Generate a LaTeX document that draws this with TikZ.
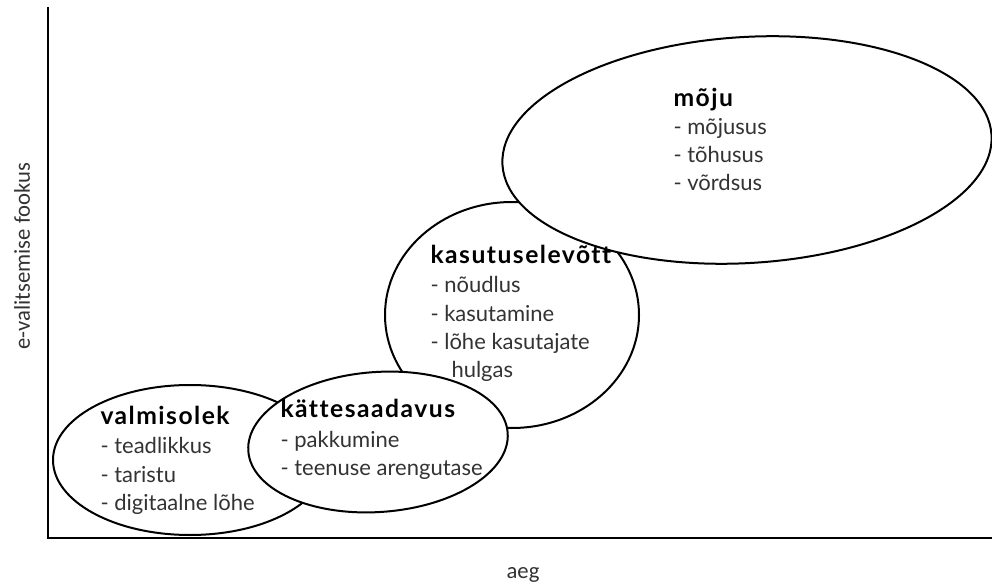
\documentclass[tikz,border=0pt]{standalone}
\usepackage{fontspec}
\setmainfont{Lato}
\newfontfamily\headfont{Lato}[LetterSpace=6, Ligatures=NoCommon]
\newfontfamily\axisfont{Carlito}
\usetikzlibrary{shapes.geometric}

\tikzset{every picture/.style={line width=0.75pt}}
\tikzset{
  bubble/.style={draw, ellipse, fill=white, line width=1.5pt, inner sep=0pt},
  headtxt/.style={anchor=base west, inner sep=0pt, font=\headfont\fontsize{18.5}{22}\selectfont\bfseries},
  itemtxt/.style={anchor=base west, inner sep=0pt, text=black!80, font=\fontsize{16.5}{20}\selectfont},
  axistxt/.style={inner sep=0pt, text=black!80, font=\axisfont\fontsize{17}{20}\selectfont}
}

\begin{document}
\begin{tikzpicture}[x=0.75pt,y=0.75pt,yscale=-1,xscale=1]
    \useasboundingbox (0,0) rectangle (992,584);

    %Axes
    \coordinate (ytop) at (48,7);
    \coordinate (origin) at (48,538);
    \coordinate (xend) at (992,538);
    \draw [line width=1.5pt]  (ytop) -- (origin) -- (xend) ;

    %Shape: Ellipse
    \node [bubble, minimum width=190.5pt, minimum height=169.5pt] (adoptell) at (512,315) {};
    %Shape: Ellipse
    \node [bubble, minimum width=205.5pt, minimum height=112.5pt] (readyell) at (190,460) {};
    %Shape: Ellipse
    \node [bubble, minimum width=195pt, minimum height=105pt, rotate=4] (accessell) at (378,442) {};
    %Shape: Ellipse
    \node [bubble, minimum width=367.5pt, minimum height=169.5pt, rotate=3.5] (impactell) at (747,150) {};

    % Text Node
    \node [headtxt] (readyhead) at (100,424) {valmisolek};
    \node [itemtxt] (readya) at (100,453) {- teadlikkus};
    \node [itemtxt] (readyb) at (100,482) {- taristu};
    \node [itemtxt] (readyc) at (100,510) {- digitaalne lõhe};

    % Text Node
    \node [headtxt] (accesshead) at (280,417) {kättesaadavus};
    \node [itemtxt] (accessa) at (280,447) {- pakkumine};
    \node [itemtxt] (accessb) at (280,475) {- teenuse arengutase};

    % Text Node
    \node [headtxt] (adopthead) at (430,264) {kasutuselevõtt};
    \node [itemtxt] (adopta) at (430,293) {- nõudlus};
    \node [itemtxt] (adoptb) at (430,322) {- kasutamine};
    \node [itemtxt] (adoptc) at (430,350) {- lõhe kasutajate};
    \node [itemtxt] (adoptd) at (451,378) {hulgas};

    % Text Node
    \node [headtxt] (impacthead) at (673,107) {mõju};
    \node [itemtxt] (impacta) at (673,135) {- mõjusus};
    \node [itemtxt] (impactb) at (673,163) {- tõhusus};
    \node [itemtxt] (impactc) at (673,191) {- võrdsus};

    % Text Node
    \node [axistxt, anchor=base] (xlabel) at (523,578) {aeg};
    % Text Node
    \node [axistxt, rotate=90] (ylabel) at (22,256) {e-valitsemise fookus};

\end{tikzpicture}
\end{document}
